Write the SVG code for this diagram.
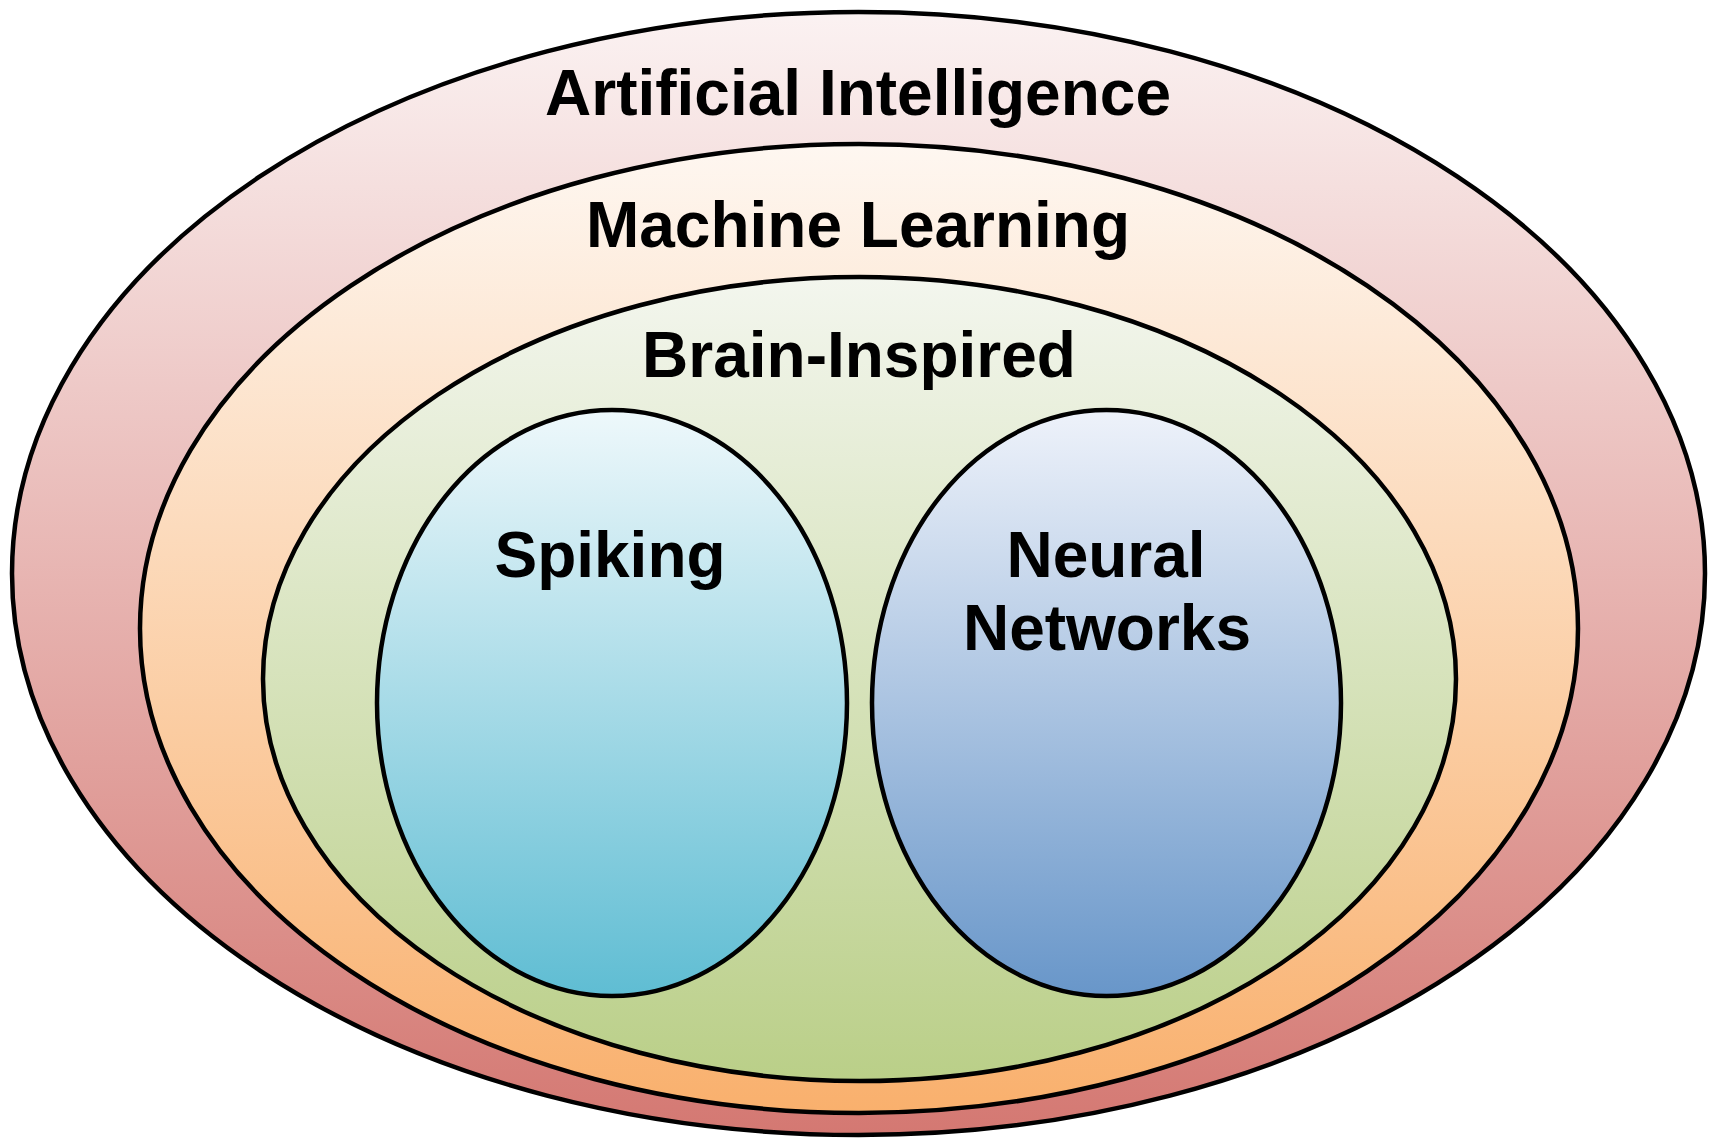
<svg xmlns="http://www.w3.org/2000/svg" width="1715" height="1139" viewBox="0 0 1715 1139">
  <style>
    .ring { stroke: #000; stroke-width: 4.5; }
    .label { font-family: "Liberation Sans", Arial, sans-serif; font-weight: bold; font-size: 64px; fill: #000; text-anchor: middle; }
  </style>
  <defs>
    <linearGradient id="gAI" x1="0" y1="0" x2="0" y2="1">
      <stop offset="0" stop-color="#fbf2f2"/>
      <stop offset="1" stop-color="#d47872"/>
    </linearGradient>
    <linearGradient id="gML" x1="0" y1="0" x2="0" y2="1">
      <stop offset="0" stop-color="#fef7f1"/>
      <stop offset="1" stop-color="#f9b06d"/>
    </linearGradient>
    <linearGradient id="gBI" x1="0" y1="0" x2="0" y2="1">
      <stop offset="0" stop-color="#f3f6ee"/>
      <stop offset="1" stop-color="#bacf88"/>
    </linearGradient>
    <linearGradient id="gSP" x1="0" y1="0" x2="0" y2="1">
      <stop offset="0" stop-color="#eef8fb"/>
      <stop offset="1" stop-color="#5fbdd3"/>
    </linearGradient>
    <linearGradient id="gNN" x1="0" y1="0" x2="0" y2="1">
      <stop offset="0" stop-color="#eef2fa"/>
      <stop offset="1" stop-color="#6896c9"/>
    </linearGradient>
  </defs>

  <g id="artificial-intelligence">
    <ellipse class="ring" cx="858.5" cy="573.5" rx="846.5" ry="561.5" fill="url(#gAI)"/>
    <text class="label" x="858" y="115">Artificial Intelligence</text>
  </g>

  <g id="machine-learning">
    <ellipse class="ring" cx="859" cy="628.5" rx="719" ry="484.5" fill="url(#gML)"/>
    <text class="label" x="858" y="247">Machine Learning</text>
  </g>

  <g id="brain-inspired">
    <ellipse class="ring" cx="859.5" cy="679" rx="596.5" ry="402" fill="url(#gBI)"/>
    <text class="label" x="859" y="377">Brain-Inspired</text>
  </g>

  <g id="spiking">
    <ellipse class="ring" cx="612" cy="703" rx="235" ry="293" fill="url(#gSP)"/>
    <text class="label" x="610" y="577">Spiking</text>
  </g>

  <g id="neural-networks">
    <ellipse class="ring" cx="1106.5" cy="703" rx="234.5" ry="293" fill="url(#gNN)"/>
    <text class="label" x="1106" y="577">Neural</text>
    <text class="label" x="1107" y="650">Networks</text>
  </g>

  <g id="connectors"/>
</svg>
